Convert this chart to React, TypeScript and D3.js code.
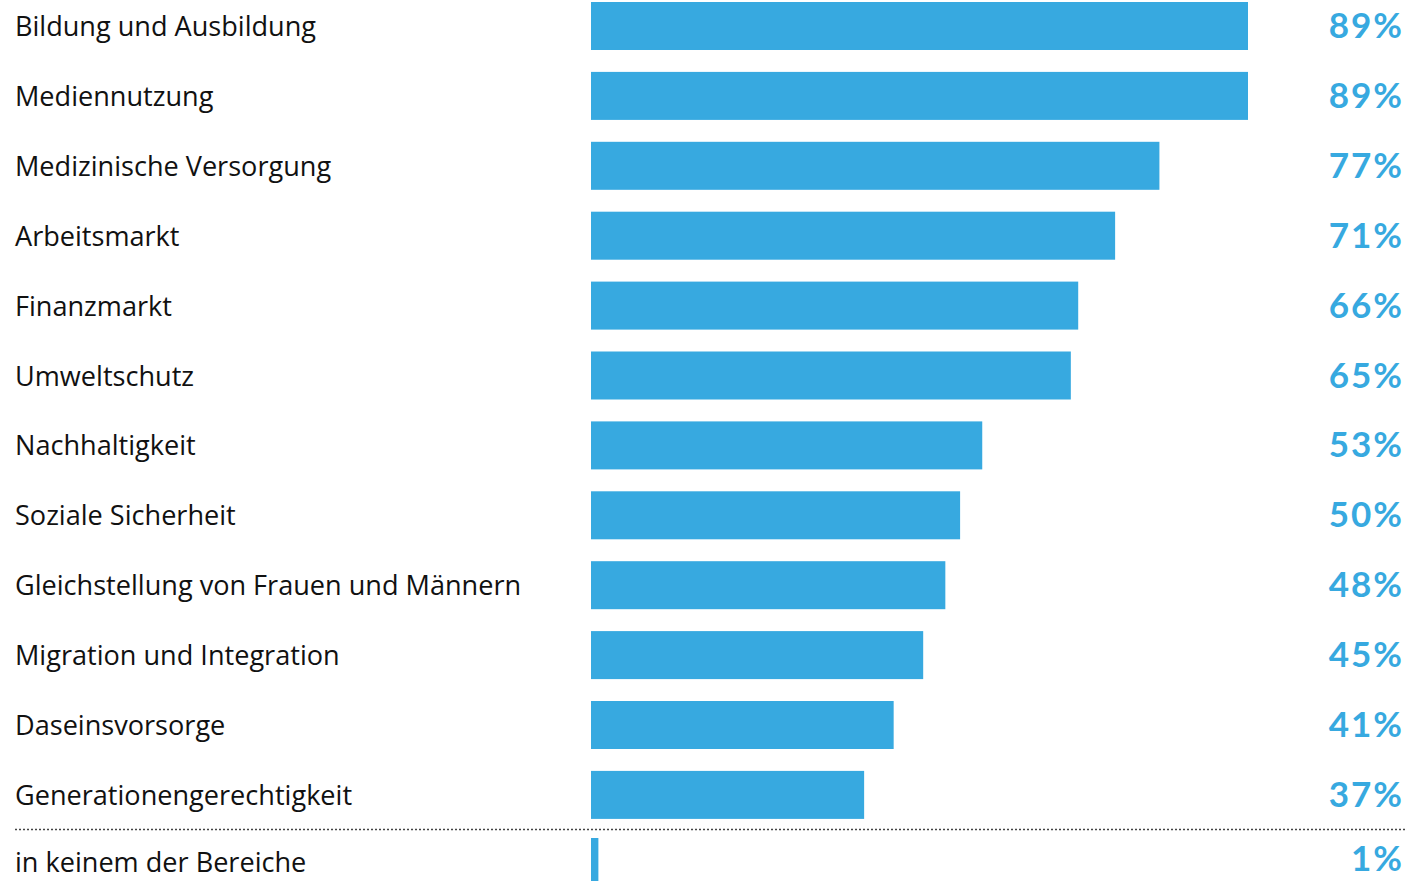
import React from "react";
import * as d3 from "d3";

const categories = [
  "Bildung und Ausbildung",
  "Mediennutzung",
  "Medizinische Versorgung",
  "Arbeitsmarkt",
  "Finanzmarkt",
  "Umweltschutz",
  "Nachhaltigkeit",
  "Soziale Sicherheit",
  "Gleichstellung von Frauen und Männern",
  "Migration und Integration",
  "Daseinsvorsorge",
  "Generationengerechtigkeit",
];
const values = [89, 89, 77, 71, 66, 65, 53, 50, 48, 45, 41, 37];
const extraCategory = "in keinem der Bereiche";
const extraValue = 1;

const W = 1408;
const H = 881;
const BLUE = "#37a9e0";

export default function App() {
  const x = d3.scaleLinear().domain([0, 100]).range([591, 591 + 738.2]);
  const y = d3
    .scaleBand<string>()
    .domain(categories)
    .range([2, 2 + 69.9 * (categories.length - 1) + 48])
    .paddingInner(21.9 / 69.9)
    .paddingOuter(0);
  const bh = y.bandwidth();
  const extraY = 838;
  const labelFont = "'Open Sans', 'Noto Sans', sans-serif";
  const valueFont = "Lato, 'Noto Sans', sans-serif";

  return (
    <svg
      width={W}
      height={H}
      style={{ position: "absolute", left: 0, top: 0, background: "#fff" }}
    >
      {categories.map((c, i) => {
        const y0 = y(c) as number;
        const cy = y0 + bh / 2;
        return (
          <g key={c}>
            <rect x={x(0)} y={y0} width={x(values[i]) - x(0)} height={bh} fill={BLUE} />
            <text x={15} y={cy + 10} fontFamily={labelFont} fontSize={27.1} fill="#111">
              {c}
            </text>
            <text
              x={1404}
              y={cy + 12}
              textAnchor="end"
              fontFamily={valueFont}
              fontWeight={700}
              fontSize={35}
              fill={BLUE}
              letterSpacing={2}
            >
              {values[i]}%
            </text>
          </g>
        );
      })}
      <line
        x1={15}
        x2={1406}
        y1={829.5}
        y2={829.5}
        stroke="#444"
        strokeWidth={1.5}
        strokeDasharray="2 2"
      />
      <rect x={x(0)} y={extraY} width={x(extraValue) - x(0)} height={bh} fill={BLUE} />
      <text x={15} y={extraY + 34} fontFamily={labelFont} fontSize={27.1} fill="#111">
        {extraCategory}
      </text>
      <text
        x={1404}
        y={extraY + 33}
        textAnchor="end"
        fontFamily={valueFont}
        fontWeight={700}
        fontSize={35}
        fill={BLUE}
        letterSpacing={2}
      >
        {extraValue}%
      </text>
    </svg>
  );
}
